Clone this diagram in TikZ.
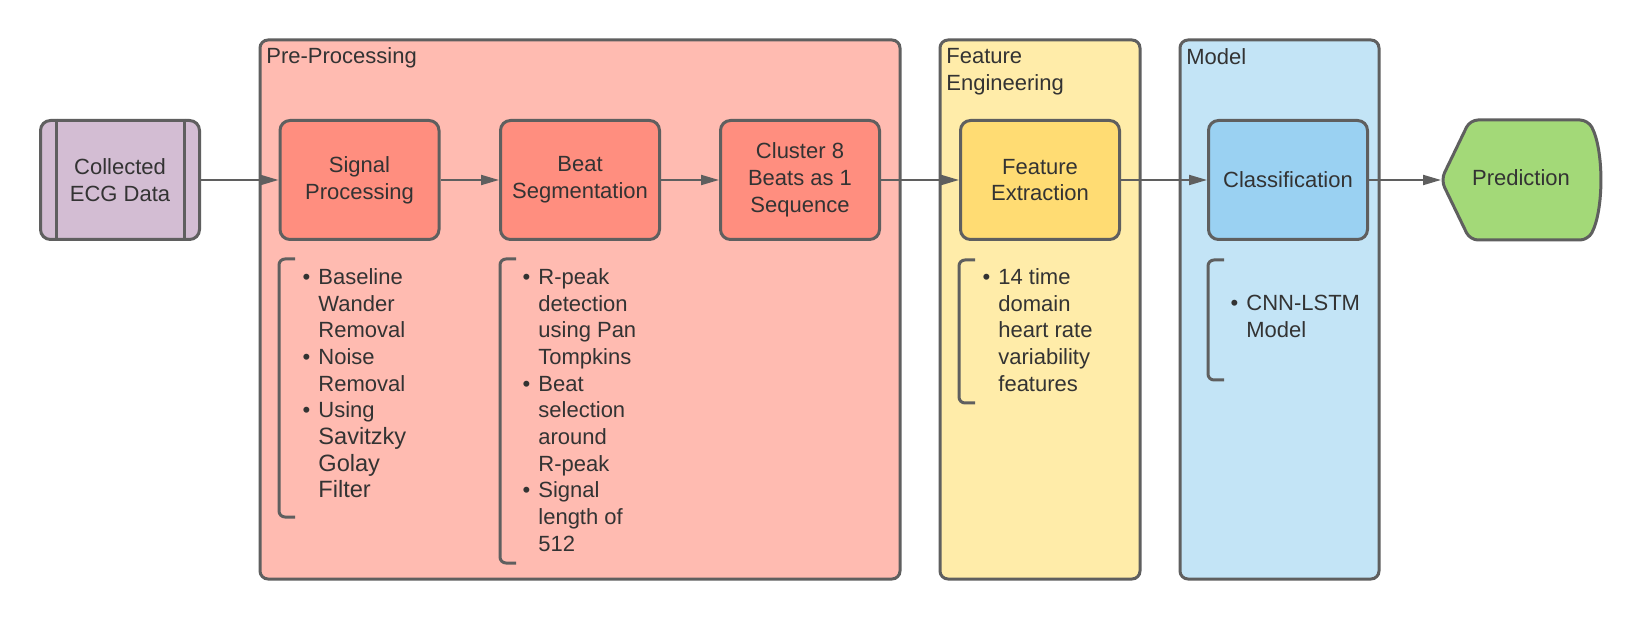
\documentclass[tikz,border=0pt]{standalone}
\usepackage{fontspec}
\setmainfont{Liberation Sans}
\usetikzlibrary{arrows.meta}

\definecolor{edgegray}{HTML}{5F5F5F}
\definecolor{textgray}{HTML}{333333}
\definecolor{ecgfill}{HTML}{D3BDD3}
\definecolor{prefill}{HTML}{FFBBB1}
\definecolor{preinner}{HTML}{FF8E7F}
\definecolor{featfill}{HTML}{FFECA9}
\definecolor{featinner}{HTML}{FFDC73}
\definecolor{modelfill}{HTML}{C3E4F6}
\definecolor{modelinner}{HTML}{9AD1F2}
\definecolor{predfill}{HTML}{A3D978}

\tikzset{
  stepbox/.style={draw=edgegray, line width=1.5pt, rounded corners=5pt,
    minimum width=79.5pt, minimum height=59.5pt, align=center, inner sep=0pt, text=textgray},
  stage/.style={draw=edgegray, line width=1.5pt, rounded corners=4pt},
  flow/.style={draw=edgegray, line width=1pt, -{Triangle[length=9pt,width=5pt]}},
  bracket/.style={draw=edgegray, line width=1.5pt, rounded corners=3pt},
  notes/.style={anchor=north west, align=left, inner sep=0pt, text=textgray},
  stagelabel/.style={anchor=north west, align=left, inner sep=0pt, text=textgray},
}
\newcommand{\bul}{\llap{\textbullet\hspace{4pt}}}

\begin{document}
\begin{tikzpicture}[x=0.5pt, y=-0.5pt, font=\fontsize{11}{13.35}\selectfont]
    \useasboundingbox[fill=white] (0,0) rectangle (1640,620);

    % stage containers
    \draw[stage, fill=prefill] (260,40) rectangle (900,579);
    \node[stagelabel] (prelabel) at (266,47) {Pre-Processing};

    \draw[stage, fill=featfill] (940,40) rectangle (1140,579);
    \node[stagelabel] (featlabel) at (946,48) {Feature\\Engineering};

    \draw[stage, fill=modelfill] (1180,40) rectangle (1379,579);
    \node[stagelabel] (modellabel) at (1186,48) {Model};

    % input data
    \node[stepbox, fill=ecgfill] (ecg) at (120,180) {Collected\\ECG Data};
    \draw[edgegray, line width=1.5pt] ([xshift=8.5pt]ecg.north west) -- ([xshift=8.5pt]ecg.south west);
    \draw[edgegray, line width=1.5pt] ([xshift=-8.5pt]ecg.north east) -- ([xshift=-8.5pt]ecg.south east);

    % process steps
    \node[stepbox, fill=preinner] (sigproc) at (359.5,180) {Signal\\Processing};
    \node[stepbox, fill=preinner] (beatseg) at (580,180) {Beat\\Segmentation};
    \node[stepbox, fill=preinner] (cluster) at (800,180) {Cluster 8\\Beats as 1\\Sequence};
    \node[stepbox, fill=featinner] (featext) at (1040,180) {Feature\\Extraction};
    \node[stepbox, fill=modelinner] (classif) at (1288,180) {Classification};

    % output
    \draw[edgegray, line width=1.5pt, fill=predfill, rounded corners=4pt]
        (1441,180) -- (1470,120) -- (1588,120) .. controls (1604,150) and (1604,210) .. (1588,240)
        -- (1470,240) -- cycle;
    \coordinate (predtip) at (1441,180);
    \node[text=textgray] (pred) at (1521,178) {Prediction};

    % connectors
    \draw[flow] (ecg) -- (sigproc);
    \draw[flow] (sigproc) -- (beatseg);
    \draw[flow] (beatseg) -- (cluster);
    \draw[flow] (cluster) -- (featext);
    \draw[flow] (featext) -- (classif);
    \draw[flow] (classif) -- (predtip);

    % notes
    \draw[bracket] (295,259) -- (279,259) -- (279,517) -- (295,517);
    \node[notes] (signotes) at (318,268) {\bul Baseline\\Wander\\Removal\\\bul Noise\\Removal\\\bul Using\\
        {\fontsize{11.8}{13.35}\selectfont Savitzky}\\{\fontsize{11.8}{13.35}\selectfont Golay}\\{\fontsize{11.8}{13.35}\selectfont Filter}};

    \draw[bracket] (516,259) -- (500,259) -- (500,563) -- (516,563);
    \node[notes] (segnotes) at (538,268) {\bul R-peak\\detection\\using Pan\\Tompkins\\\bul Beat\\selection\\around\\R-peak\\\bul Signal\\length of\\512};

    \draw[bracket] (975,260) -- (959,260) -- (959,403) -- (975,403);
    \node[notes] (featnotes) at (998,268) {\bul 14 time\\domain\\heart rate\\variability\\features};

    \draw[bracket] (1224,260) -- (1208,260) -- (1208,380) -- (1224,380);
    \node[notes] (modelnotes) at (1246,295) {\bul CNN-LSTM\\Model};
\end{tikzpicture}
\end{document}
